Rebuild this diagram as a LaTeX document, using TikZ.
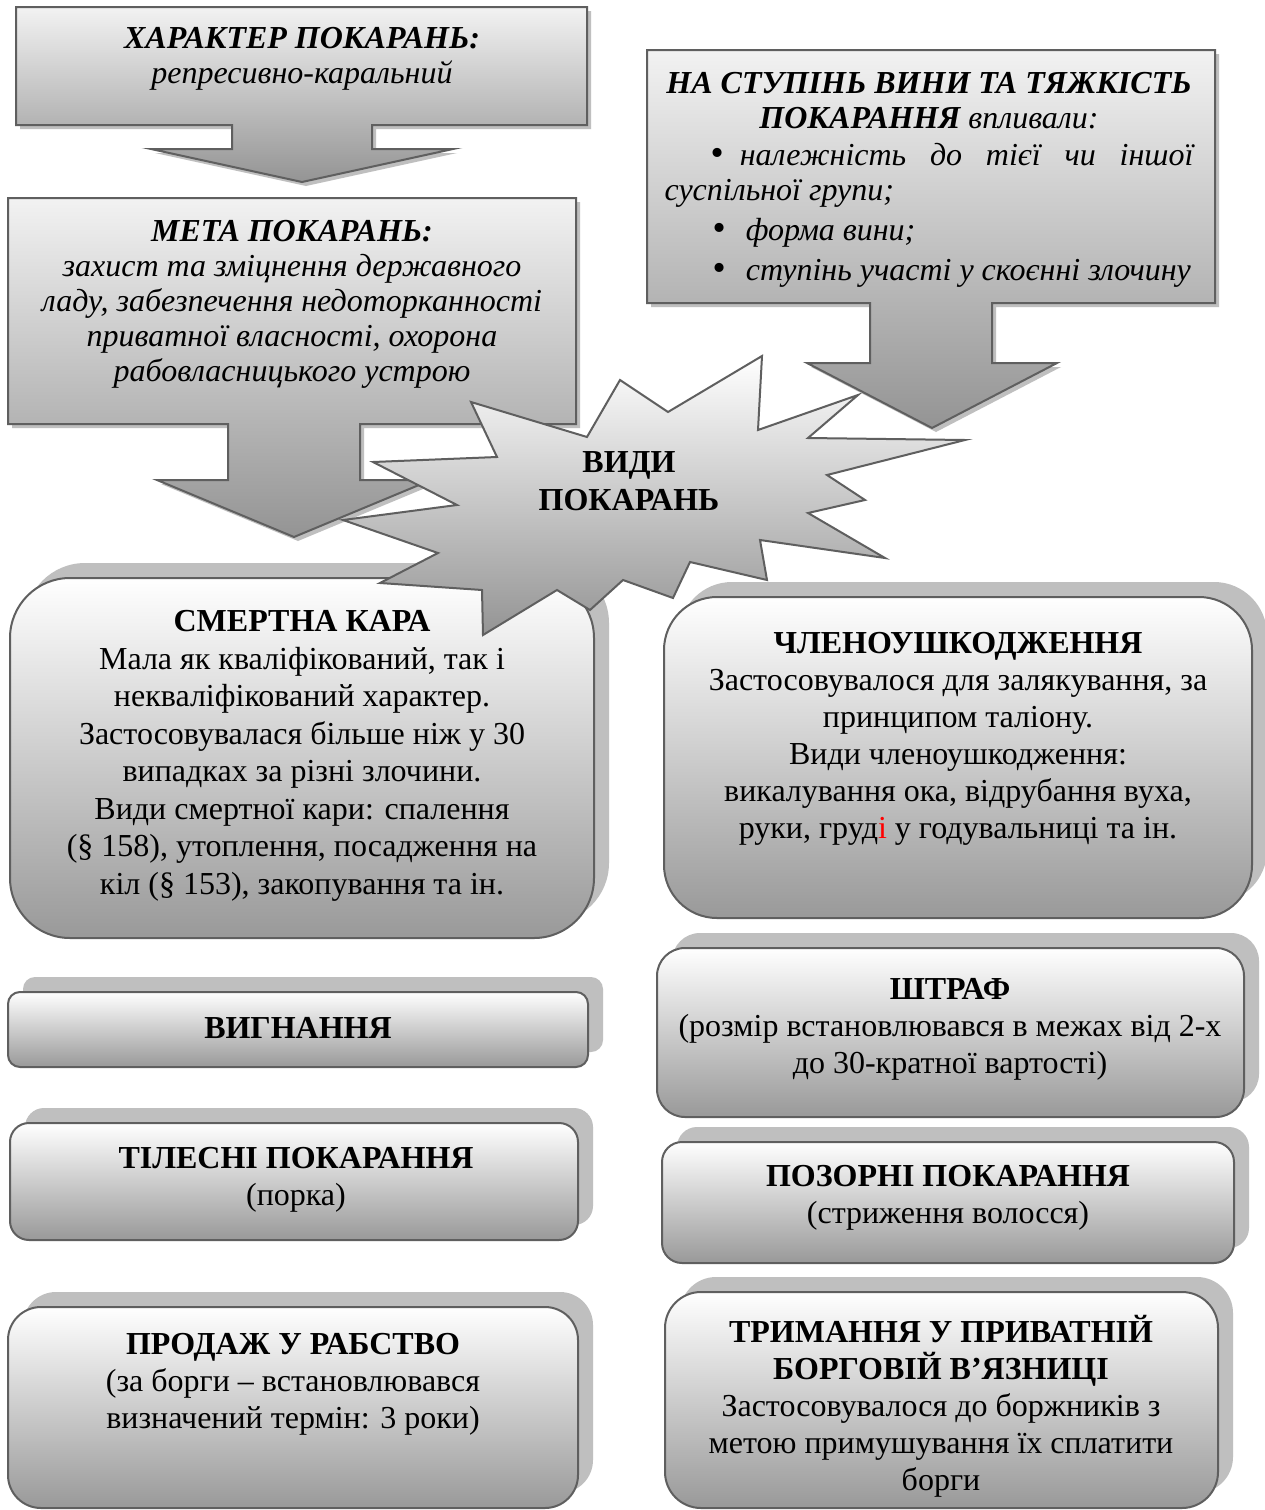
\documentclass[tikz,border=0pt]{standalone}
\usepackage{fontspec}
\setmainfont{Liberation Serif}
\usetikzlibrary{calc}
\definecolor{edge}{HTML}{5F5F5F}
\definecolor{shadowgray}{HTML}{BFBFBF}
\tikzset{%
  % Specifications for style of shapes:
         callout/.style = {draw=edge, line width=2pt,
                           top color=black!5, bottom color=black!42,
                           preaction={fill=shadowgray, transform canvas={shift={(4pt,-4pt)}}}},
           burst/.style = {draw=edge, line width=2pt,
                           top color=white, bottom color=black!42},
            rbox/.style = {rectangle, rounded corners=#1, draw=edge, line width=2pt,
                           inner sep=0pt, outer sep=0pt,
                           top color=white, bottom color=black!40,
                           preaction={fill=shadowgray, transform canvas={shift={(15pt,15pt)}}}},
  % Specifications for style of texts:
             txt/.style = {align=center, inner sep=0pt,
                           font=\fontsize{32}{37}\selectfont},
            itxt/.style = {align=center, inner sep=0pt,
                           font=\fontsize{32}{35}\selectfont\itshape},
}
\newcommand{\bigbullet}{{\fontsize{38}{35}\selectfont\textbullet}}

\begin{document}
\begin{tikzpicture}[x=1pt, y=-1pt]

  \fill[white] (0,0) rectangle (1265,1510);
  \useasboundingbox (0,0) rectangle (1265,1510);

  % kinds of punishment
  \node (smert)   [rbox=60pt, minimum width=584pt, minimum height=360pt] at (302,758)    {};
  \node (chleno)  [rbox=53pt, minimum width=588pt, minimum height=321pt] at (958,757.5)  {};
  \node (vyhn)    [rbox=12pt, minimum width=580pt, minimum height=75pt]  at (298,1029.5) {};
  \node (tilesni) [rbox=19pt, minimum width=568pt, minimum height=117pt] at (294,1181.5) {};
  \node (prodazh) [rbox=33pt, minimum width=570pt, minimum height=201pt] at (293,1407.5) {};
  \node (shtraf)  [rbox=28pt, minimum width=587pt, minimum height=169pt] at (950.5,1032.5) {};
  \node (pozorni) [rbox=20pt, minimum width=572pt, minimum height=121pt] at (948,1202.5) {};
  \node (tryman)  [rbox=36pt, minimum width=553pt, minimum height=216pt] at (941.5,1400) {};

  \node (smert-txt)   [txt, font=\fontsize{32}{37.5}\selectfont] at (302,756)
      {\textbf{СМЕРТНА КАРА}\\ Мала як кваліфікований, так і\\ некваліфікований характер.\\ Застосовувалася більше ніж у 30\\ випадках за різні злочини.\\ Види смертної кари: спалення\\ (§ 158), утоплення, посадження на\\ кіл (§ 153), закопування та ін.};
  \node (chleno-txt)  [txt] at (958,738.5)
      {\textbf{ЧЛЕНОУШКОДЖЕННЯ}\\ Застосовувалося для залякування, за\\ принципом таліону.\\ Види членоушкодження:\\ викалування ока, відрубання вуха,\\ руки, груд\textcolor{red}{і} у годувальниці та ін.};
  \node (vyhn-txt)    [txt] at (298,1028)   {\textbf{ВИГНАННЯ}};
  \node (tilesni-txt) [txt] at (296,1180)   {\textbf{ТІЛЕСНІ ПОКАРАННЯ}\\ (порка)};
  \node (prodazh-txt) [txt] at (293,1384)   {\textbf{ПРОДАЖ У РАБСТВО}\\ (за борги – встановлювався\\ визначений термін: 3 роки)};
  \node (shtraf-txt)  [txt] at (950,1029.5) {\textbf{ШТРАФ}\\ (розмір встановлювався в межах від 2-х\\ до 30-кратної вартості)};
  \node (pozorni-txt) [txt] at (948,1198)   {\textbf{ПОЗОРНІ ПОКАРАННЯ}\\ (стриження волосся)};
  \node (tryman-txt)  [txt] at (941,1406)
      {\textbf{ТРИМАННЯ У ПРИВАТНІЙ}\\ \textbf{БОРГОВІЙ В’ЯЗНИЦІ}\\ Застосовувалося до боржників з\\ метою примушування їх сплатити\\ борги};

  % arrow callouts on the top
  \path[callout] (16,7) -- (587,7) -- (587,125) -- (372,125) -- (372,149)
      -- (453,149) -- (302,182) -- (151,149) -- (232,149) -- (232,125)
      -- (16,125) -- cycle;
  \path[callout] (8,198) -- (576,198) -- (576,424) -- (360,424) -- (360,480)
      -- (431,480) -- (294,537) -- (157,480) -- (228,480) -- (228,424)
      -- (8,424) -- cycle;

  % the burst in the middle
  \path[burst] (471,402) -- (587,437) -- (620,380) -- (668,412) -- (762,356)
      -- (758,430) -- (858,395) -- (808,438) -- (965,440) -- (827,475)
      -- (865,500) -- (808,513) -- (885,558) -- (760,540) -- (767,580)
      -- (690,562) -- (673,598) -- (623,580) -- (590,610) -- (557,590)
      -- (483,635) -- (482,590) -- (380,583) -- (438,553) -- (343,520)
      -- (457,505) -- (373,462) -- (497,457) -- cycle;

  \path[callout] (647,50) -- (1215,50) -- (1215,303) -- (992,303) -- (992,363)
      -- (1057,363) -- (932,428) -- (807,363) -- (870,363) -- (870,303)
      -- (647,303) -- cycle;

  \node (kharakter) [itxt] at (302,59) {\textbf{ХАРАКТЕР ПОКАРАНЬ:}\\ репресивно-каральний};
  \node (meta)      [itxt] at (292,304) {\textbf{МЕТА ПОКАРАНЬ:}\\ захист та зміцнення державного\\ ладу, забезпечення недоторканності\\ приватної власності, охорона\\ рабовласницького устрою};
  \node (stupin)    [itxt] at (929,180)
      {\textbf{НА СТУПІНЬ ВИНИ ТА ТЯЖКІСТЬ}\\
       \textbf{ПОКАРАННЯ} впливали:\\[2pt]
       \makebox[529pt][s]{\hspace*{46pt}\bigbullet\hspace{16pt}належність до тієї чи іншої}\\
       \makebox[529pt][l]{суспільної групи;}\\[5pt]
       \makebox[529pt][l]{\hspace*{48pt}\bigbullet\hspace{20pt}форма вини;}\\[5pt]
       \makebox[529pt][l]{\hspace*{48pt}\bigbullet\hspace{20pt}ступінь участі у скоєнні злочину}};
  \node (vydy)      [txt, font=\fontsize{32}{38}\selectfont] at (629,481) {\textbf{ВИДИ}\\ \textbf{ПОКАРАНЬ}};

\end{tikzpicture}
\end{document}
